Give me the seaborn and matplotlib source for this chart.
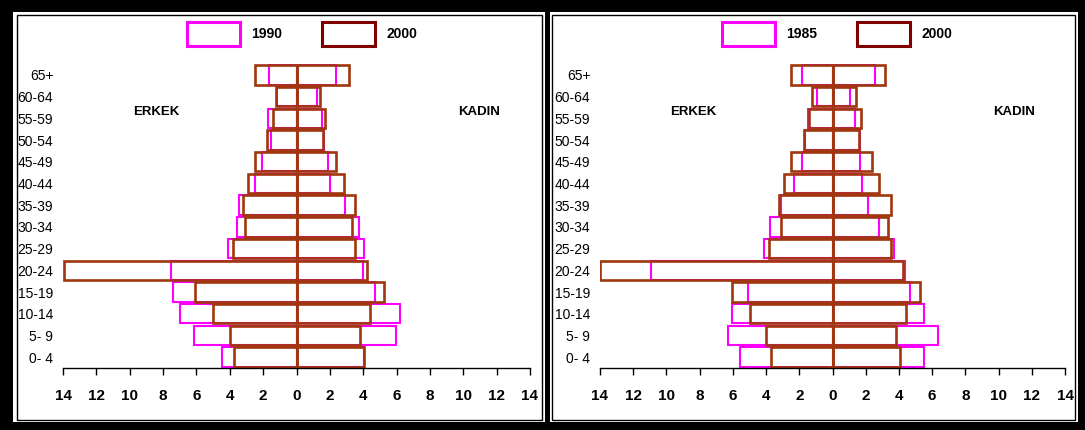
import matplotlib
matplotlib.use('Agg')
import matplotlib.pyplot as plt
from matplotlib.patches import Rectangle, Patch
import seaborn as sns
import pandas as pd

# yaş grupları (üstten alta)
ages = ['65+', '60-64', '55-59', '50-54', '45-49', '40-44', '35-39',
        '30-34', '25-29', '20-24', '15-19', '10-14', '5- 9', '0- 4']

# sol grafik: 1990
erkek_1990 = [1.64, 1.18, 1.68, 1.55, 2.04, 2.48, 3.45, 3.59, 4.12, 7.5, 7.4, 7.0, 6.16, 4.45]
kadin_1990 = [2.35, 1.22, 1.53, 1.64, 1.89, 2.02, 2.9, 3.72, 4.05, 4.0, 4.68, 6.2, 5.97, 4.05]

# sağ grafik: 1985
erkek_1985 = [1.85, 0.95, 1.47, 1.68, 1.81, 2.33, 3.11, 3.74, 4.14, 10.92, 5.1, 6.03, 6.28, 5.57]
kadin_1985 = [2.58, 1.05, 1.37, 1.66, 1.66, 1.76, 2.16, 2.82, 3.72, 4.35, 4.68, 5.53, 6.37, 5.53]

# 2000 (iki grafikte ortak)
erkek_2000 = [2.47, 1.21, 1.41, 1.74, 2.47, 2.91, 3.22, 3.09, 3.80, 13.97, 6.07, 4.99, 4.01, 3.73]
kadin_2000 = [3.15, 1.39, 1.71, 1.58, 2.37, 2.83, 3.52, 3.32, 3.50, 4.23, 5.26, 4.41, 3.83, 4.07]

x_ticks = list(range(-14, 15, 2))
x_labels = [str(abs(t)) for t in x_ticks]

sns.set_style('white')
plt.rcParams['font.family'] = ['Liberation Sans', 'DejaVu Sans']
plt.rcParams['text.color'] = 'black'
plt.rcParams['xtick.color'] = 'black'
plt.rcParams['ytick.color'] = 'black'

MAGENTA = '#FF00FF'
BROWN = '#A0360D'
MAROON = '#800000'

W, H = 1085, 430
fig = plt.figure(figsize=(W / 100, H / 100), dpi=100, facecolor='black')


def px_rect(x0, y0, x1, y1, **kw):
    # piksel koordinatlarından (üst-sol orijin) figür kesirine
    return Rectangle((x0 / W, 1 - y1 / H), (x1 - x0) / W, (y1 - y0) / H,
                     transform=fig.transFigure, zorder=-10, **kw)


# panel arka planları
fig.patches.append(px_rect(13, 12, 545, 422, facecolor='white', edgecolor='none'))
fig.patches.append(px_rect(17, 15, 542, 420, facecolor='white', edgecolor='black', linewidth=1))
fig.patches.append(px_rect(550, 12, 1078, 422, facecolor='white', edgecolor='none'))
fig.patches.append(px_rect(552, 15, 1075, 420, facecolor='white', edgecolor='black', linewidth=1))


def draw_panel(ax, erkek_old, kadin_old, old_label, leg_x):
    df_old = pd.DataFrame({'yas': ages, 'erkek': [-v for v in erkek_old], 'kadin': kadin_old})
    df_new = pd.DataFrame({'yas': ages, 'erkek': [-v for v in erkek_2000], 'kadin': kadin_2000})

    # önce eski yıl (magenta), sonra 2000 (kahverengi)
    for df, col, lw in [(df_old, MAGENTA, 1.5), (df_new, BROWN, 1.9)]:
        for side in ['erkek', 'kadin']:
            sns.barplot(data=df, x=side, y='yas', order=ages, orient='h', fill=False,
                        color=col, edgecolor=col, linewidth=lw, width=0.9,
                        errorbar=None, ax=ax)

    ax.set_xlim(-14, 14)
    ax.set_ylim(13.5, -0.5)
    ax.set_xticks(x_ticks)
    ax.set_xticklabels(x_labels, fontsize=11, fontweight='bold')
    ax.set_xlabel('')
    ax.set_ylabel('')
    ax.tick_params(axis='x', bottom=True, direction='out', length=5, width=1,
                   color='black', labelcolor='black', pad=10)
    ax.tick_params(axis='y', left=False, length=0, pad=7, labelsize=10, labelcolor='black')
    for s in ['left', 'right', 'top']:
        ax.spines[s].set_visible(False)
    ax.spines['bottom'].set_color('black')
    ax.spines['bottom'].set_linewidth(1)
    ax.set_facecolor('none')

    ax.text(-8.4, 1.7, 'ERKEK', fontsize=9.5, fontweight='bold', ha='center', va='center')
    ax.text(10.95, 1.7, 'KADIN', fontsize=9.5, fontweight='bold', ha='center', va='center')

    handles = [Patch(facecolor='white', edgecolor=MAGENTA, linewidth=2.2),
               Patch(facecolor='white', edgecolor=MAROON, linewidth=2.2)]
    ax.legend(handles, [old_label, '2000'], loc='center', bbox_to_anchor=(leg_x, 0.921),
              bbox_transform=fig.transFigure, ncol=2, frameon=False,
              handlelength=3.8, handleheight=2.2, columnspacing=2.9, handletextpad=0.8,
              prop={'weight': 'bold', 'size': 10})


ax1 = fig.add_axes([63 / W, 62 / H, 467 / W, 304 / H])
ax2 = fig.add_axes([600 / W, 62 / H, 465 / W, 304 / H])

draw_panel(ax1, erkek_1990, kadin_1990, '1990', 302 / W)
draw_panel(ax2, erkek_1985, kadin_1985, '1985', 837 / W)

plt.savefig('out.png', dpi=100, facecolor=fig.get_facecolor())
